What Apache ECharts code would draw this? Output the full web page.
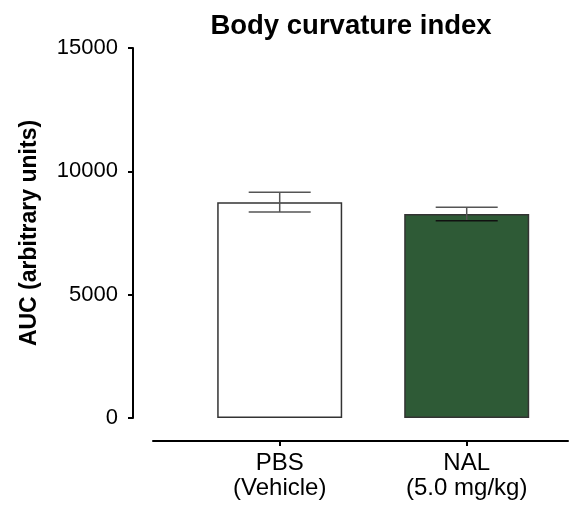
<!DOCTYPE html>
<html>
<head>
<meta charset="utf-8">
<script src="https://cdn.jsdelivr.net/npm/echarts@6/dist/echarts.min.js"></script>
<style>
  html, body { margin: 0; padding: 0; background: #fff; }
  #chart { width: 581px; height: 505px; }
</style>
</head>
<body>
<div id="chart"></div>
<script>
// 组别
var categories = ['PBS\n(Vehicle)', 'NAL\n(5.0 mg/kg)'];
// 均值和误差 (SEM)
var means = [8750, 8270];
var sems = [400, 270];
var barColors = ['#ffffff', '#2e5a36'];
var yTicks = [0, 5000, 10000, 15000];

var FONT = '"Liberation Sans", Arial, Helvetica, sans-serif';

var chart = echarts.init(document.getElementById('chart'), null, { renderer: 'canvas' });

var barData = means.map(function (m, i) {
  return {
    value: [i, m],
    itemStyle: { color: barColors[i] }
  };
});
var errData = means.map(function (m, i) {
  return [i, m - sems[i], m + sems[i]];
});

var option = {
  animation: false,
  backgroundColor: '#ffffff',
  title: {
    text: 'Body curvature index',
    left: 346,
    top: 7,
    textAlign: 'center',
    textStyle: {
      fontFamily: FONT,
      fontWeight: 'bold',
      fontSize: 27.5,
      color: '#000'
    }
  },
  grid: {
    left: 153,
    right: 13,
    top: 48,
    bottom: 87
  },
  xAxis: {
    type: 'value',
    min: -0.6775,
    max: 1.5417,
    offset: 23,
    splitLine: { show: false },
    axisLine: { show: true, onZero: false, lineStyle: { color: '#000', width: 2 } },
    axisTick: {
      show: true,
      customValues: [0, 1],
      length: 5,
      lineStyle: { color: '#000', width: 2 }
    },
    axisLabel: {
      customValues: [0, 1],
      margin: 10,
      fontFamily: FONT,
      fontSize: 24,
      lineHeight: 25,
      color: '#000',
      formatter: function (v) {
        return categories[Math.round(v)];
      }
    }
  },
  yAxis: {
    type: 'value',
    min: yTicks[0],
    max: yTicks[yTicks.length - 1],
    interval: 5000,
    offset: 20,
    name: 'AUC (arbitrary units)',
    nameLocation: 'middle',
    nameGap: 92,
    nameRotate: 90,
    nameTextStyle: {
      fontFamily: FONT,
      fontWeight: 'bold',
      fontSize: 23,
      color: '#000'
    },
    splitLine: { show: false },
    axisLine: { show: true, onZero: false, lineStyle: { color: '#000', width: 2 } },
    axisTick: { show: true, length: 5, lineStyle: { color: '#000', width: 2 } },
    axisLabel: {
      margin: 15,
      fontFamily: FONT,
      fontSize: 22,
      color: '#000',
      formatter: function (v) {
        return String(v);
      }
    }
  },
  series: [{
    type: 'bar',
    barWidth: 125,
    data: barData,
    itemStyle: {
      borderColor: '#333',
      borderWidth: 1.5
    }
  }, {
    type: 'custom',
    data: errData,
    z: 5,
    renderItem: function (params, api) {
      var x = api.value(0);
      var lo = api.coord([x, api.value(1)]);
      var hi = api.coord([x, api.value(2)]);
      var half = 31;
      var style = { stroke: '#555', lineWidth: 1.5 };
      return {
        type: 'group',
        children: [{
          type: 'line',
          shape: { x1: hi[0], y1: hi[1], x2: lo[0], y2: lo[1] },
          style: style
        }, {
          type: 'line',
          shape: { x1: hi[0] - half, y1: hi[1], x2: hi[0] + half, y2: hi[1] },
          style: style
        }, {
          type: 'line',
          shape: { x1: lo[0] - half, y1: lo[1], x2: lo[0] + half, y2: lo[1] },
          style: { stroke: params.dataIndex === 1 ? '#111' : '#555', lineWidth: 1.5 }
        }]
      };
    }
  }]
};

chart.setOption(option);
</script>
</body>
</html>
